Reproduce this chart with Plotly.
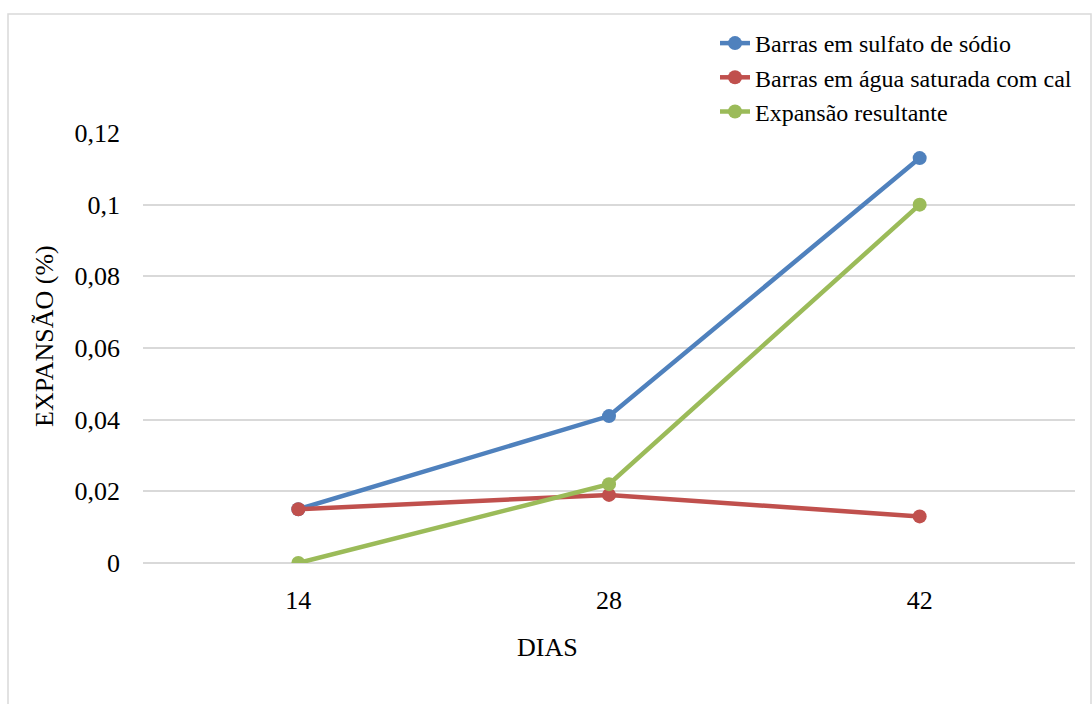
import plotly.graph_objects as go

dias = ["14", "28", "42"]
sulfato = [0.015, 0.041, 0.113]
agua_cal = [0.015, 0.019, 0.013]
resultante = [0.0, 0.022, 0.100]

y_ticks = [0, 0.02, 0.04, 0.06, 0.08, 0.10, 0.12]
y_tick_labels = ["0", "0,02", "0,04", "0,06", "0,08", "0,1", "0,12"]

series = [
    ("Barras em sulfato de sódio", sulfato, "#4F81BD"),
    ("Barras em água saturada com cal", agua_cal, "#C0504D"),
    ("Expansão resultante", resultante, "#9BBB59"),
]

FONT = "Liberation Serif"
BLACK = "#000000"

fig = go.Figure()
for name, vals, color in series:
    fig.add_trace(go.Scatter(
        x=dias, y=vals, name=name, mode="lines+markers",
        line=dict(color=color, width=4.5),
        marker=dict(color=color, size=14),
    ))

W, H = 1092, 704
L, R, T, B = 143, 17, 133, 141
pw, ph = W - L - R, H - T - B

def px_x(v):
    return (v - L) / pw

def px_y(v):
    return (H - B - v) / ph

fig.update_layout(
    width=W, height=H,
    margin=dict(l=L, r=R, t=T, b=B),
    paper_bgcolor="white", plot_bgcolor="white",
    font=dict(family=FONT, color=BLACK, size=26),
    showlegend=True,
    legend=dict(
        x=px_x(715), y=px_y(21), xanchor="left", yanchor="top",
        font=dict(family=FONT, size=24, color=BLACK),
        bgcolor="rgba(0,0,0,0)", tracegroupgap=0,
    ),
    xaxis=dict(
        type="category", range=[-0.5, 2.5],
        showgrid=False, showline=False, zeroline=False,
        ticks="", ticklabelstandoff=19,
        tickfont=dict(family=FONT, size=26, color=BLACK),
    ),
    yaxis=dict(
        range=[0, 0.12], tickvals=y_ticks, ticktext=y_tick_labels,
        showgrid=True, gridcolor="#D9D9D9", gridwidth=1.5,
        zeroline=True, zerolinecolor="#D9D9D9", zerolinewidth=1.5,
        showline=False, ticks="", ticklabelstandoff=22,
        tickfont=dict(family=FONT, size=26, color=BLACK),
    ),
    annotations=[
        dict(text="EXPANSÃO (%)", xref="paper", yref="paper",
             x=px_x(44), y=px_y(336), textangle=-90, showarrow=False,
             xanchor="center", yanchor="middle",
             font=dict(family=FONT, size=26, color=BLACK)),
        dict(text="DIAS", xref="paper", yref="paper",
             x=px_x(547), y=px_y(647), showarrow=False,
             xanchor="center", yanchor="middle",
             font=dict(family=FONT, size=26, color=BLACK)),
    ],
    shapes=[dict(
        type="rect", xref="paper", yref="paper",
        x0=px_x(8), x1=px_x(1091), y0=px_y(720), y1=px_y(14),
        line=dict(color="#D9D9D9", width=1.5), fillcolor="rgba(0,0,0,0)",
        layer="below",
    )],
)

fig.write_html("out.html")
